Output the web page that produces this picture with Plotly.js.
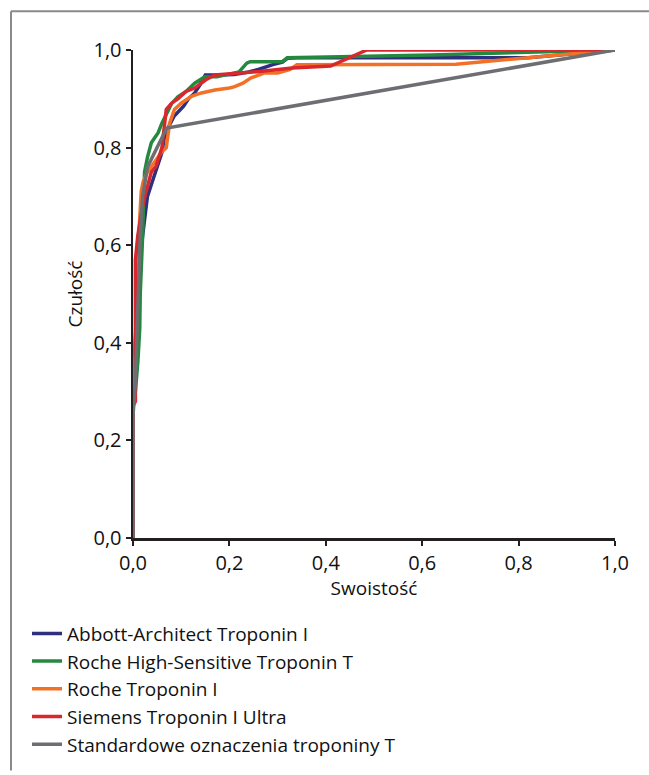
<!DOCTYPE html>
<html>
<head>
<meta charset="utf-8">
<script src="https://cdn.plot.ly/plotly-3.0.1.min.js"></script>
<style>html,body{margin:0;padding:0;background:#fff;}#chart{width:649px;height:775px;}</style>
</head>
<body>
<div id="chart"></div>
<script>
// Series names
const seriesNames = [
  "Abbott-Architect Troponin I",
  "Roche High-Sensitive Troponin T",
  "Roche Troponin I",
  "Siemens Troponin I Ultra",
  "Standardowe oznaczenia troponiny T"
];
// x = Swoistość axis values, y = Czułość
const abbottX = [0,0,0.002,0.005,0.01,0.015,0.02,0.025,0.03,0.04,0.05,0.06,0.065,0.075,0.085,0.095,0.105,0.115,0.128,0.14,0.15,0.175,0.19,0.21,0.24,0.26,0.29,0.31,0.32,0.34,0.5,0.7,0.82,1];
const abbottY = [0,0.28,0.35,0.42,0.5,0.58,0.62,0.66,0.70,0.73,0.76,0.79,0.82,0.845,0.864,0.875,0.885,0.90,0.912,0.93,0.949,0.949,0.949,0.95,0.955,0.96,0.97,0.975,0.983,0.984,0.984,0.984,0.984,1];

const rocheHsX = [0,0,0.005,0.01,0.014,0.015,0.02,0.024,0.03,0.038,0.045,0.052,0.06,0.07,0.08,0.093,0.11,0.128,0.149,0.174,0.2,0.22,0.236,0.243,0.31,0.32,0.43,0.62,1];
const rocheHsY = [0,0.28,0.30,0.36,0.43,0.50,0.62,0.75,0.78,0.81,0.82,0.83,0.85,0.87,0.89,0.904,0.915,0.932,0.945,0.945,0.95,0.955,0.973,0.976,0.976,0.984,0.986,0.99,1];

const rocheIX = [0,0,0.003,0.008,0.012,0.017,0.021,0.03,0.045,0.059,0.069,0.076,0.086,0.1,0.121,0.142,0.17,0.19,0.2,0.211,0.228,0.245,0.273,0.30,0.326,0.34,0.388,0.41,0.67,1];
const rocheIY = [0,0.25,0.35,0.50,0.62,0.71,0.73,0.75,0.77,0.79,0.80,0.85,0.878,0.891,0.905,0.912,0.918,0.92,0.922,0.925,0.932,0.943,0.953,0.953,0.96,0.97,0.97,0.971,0.971,1];

const siemensX = [0,0,0.005,0.005,0.01,0.02,0.03,0.038,0.048,0.055,0.06,0.069,0.08,0.093,0.11,0.128,0.151,0.17,0.218,0.263,0.33,0.41,0.485,1];
const siemensY = [0,0.27,0.28,0.57,0.62,0.68,0.72,0.75,0.762,0.783,0.80,0.878,0.891,0.90,0.915,0.922,0.939,0.949,0.952,0.956,0.963,0.967,1.0,1.0];

const standardX = [0,0,0.005,0.01,0.015,0.02,0.03,0.05,0.07,1];
const standardY = [0,0.25,0.32,0.50,0.62,0.70,0.76,0.80,0.84,1];

const tickVals = [0,0.2,0.4,0.6,0.8,1.0];
const colors = ["#2e2f7f","#25883f","#f37126","#d9272e","#6d6e72"];

const xs = [abbottX, rocheHsX, rocheIX, siemensX, standardX];
const ys = [abbottY, rocheHsY, rocheIY, siemensY, standardY];

const traces = seriesNames.map((n,i)=>({
  x: xs[i], y: ys[i], name: n, type: 'scatter', mode: 'lines',
  line: {color: colors[i], width: 3.5}
}));

const font = {family: '"Open Sans", "Noto Sans", sans-serif', color: '#111'};
const L = 133, R = 615, T = 50, B = 541;
const px = v => (v - L) / (R - L);
const py = v => (B - v) / (B - T);

const layout = {
  width: 649, height: 775,
  margin: {l: L, r: 649 - R, t: T, b: 775 - B},
  paper_bgcolor: '#fff', plot_bgcolor: '#fff',
  separators: ',.',
  font: Object.assign({size: 19}, font),
  showlegend: true,
  hovermode: false,
  xaxis: {
    range: [0, 1.0], tickvals: tickVals, tickformat: '.1f',
    showgrid: false, zeroline: false, showline: true, linecolor: '#231f20', linewidth: 2.5,
    ticks: 'outside', ticklen: 5, tickwidth: 2, tickcolor: '#231f20',
    tickfont: {size: 20}, fixedrange: true,
    title: {text: 'Swoistość', font: {size: 19}, standoff: 0}
  },
  yaxis: {
    range: [0, 1.0], tickvals: tickVals, tickformat: '.1f',
    showgrid: false, zeroline: false, showline: true, linecolor: '#231f20', linewidth: 2.5,
    ticks: 'outside', ticklen: 5, tickwidth: 2, tickcolor: '#231f20',
    tickfont: {size: 20}, fixedrange: true,
    title: {text: 'Czułość', font: {size: 19}, standoff: 6}
  },
  legend: {
    x: px(27), xanchor: 'left', y: py(618), yanchor: 'top',
    font: {size: 19}, bgcolor: 'rgba(0,0,0,0)', itemwidth: 30,
    tracegroupgap: 0
  },
  shapes: [
    {type: 'line', xref: 'paper', yref: 'paper', x0: px(11), x1: px(649), y0: py(11), y1: py(11), line: {color: '#8a8a8a', width: 2}},
    {type: 'line', xref: 'paper', yref: 'paper', x0: px(11), x1: px(11), y0: py(11), y1: py(775), line: {color: '#8a8a8a', width: 2}}
  ]
};

Plotly.newPlot('chart', traces, layout, {displayModeBar: false, staticPlot: true});
</script>
</body>
</html>
